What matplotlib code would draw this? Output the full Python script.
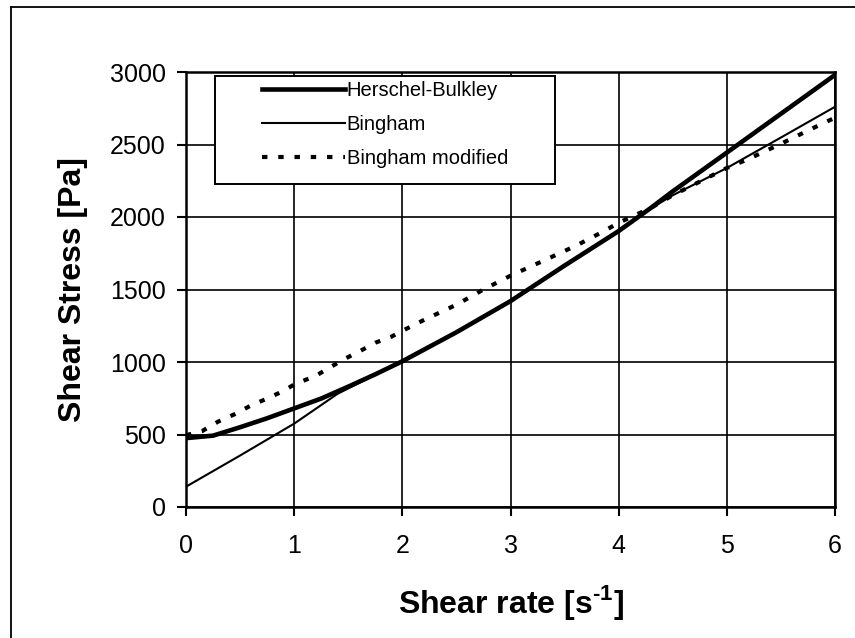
import matplotlib
matplotlib.use("Agg")
import matplotlib.pyplot as plt
from matplotlib.patches import Rectangle
from matplotlib.lines import Line2D

plt.rcParams['font.family'] = ['Liberation Sans', 'DejaVu Sans']
plt.rcParams['mathtext.fontset'] = 'custom'
plt.rcParams['mathtext.rm'] = 'Liberation Sans:bold'
plt.rcParams['mathtext.bf'] = 'Liberation Sans:bold'

# Flow curves: shear stress [Pa] against shear rate [1/s]
hb_rate = [0, 0.25, 0.5, 0.75, 1.0, 1.25, 1.5, 1.75, 2.0, 2.5, 3.0, 3.5, 4.0, 4.3, 4.5, 5.0, 5.5, 6.0]
hb_stress = [475, 492, 550, 612, 680, 748, 830, 915, 1005, 1205, 1420, 1665, 1903, 2064, 2177, 2444, 2712, 2980]

bingham_rate = [0, 0.5, 1.0, 1.4, 1.75, 2.0, 2.5, 3.0, 3.5, 4.0, 4.3, 4.5, 5.0, 5.5, 6.0]
bingham_stress = [140, 355, 575, 780, 912, 1005, 1205, 1420, 1665, 1903, 2060, 2150, 2338, 2548, 2760]

mod_rate = [0, 0.15, 0.3, 0.45, 0.6, 0.75, 0.9, 1.0, 1.2, 1.45, 1.6, 1.75, 1.9, 2.0, 2.2, 2.5, 2.75, 3.0, 3.3, 3.6, 3.85, 4.0, 4.3, 4.5, 5.0, 5.2, 5.5, 5.8, 6.0]
mod_stress = [495, 524, 590, 640, 700, 748, 800, 845, 905, 1015, 1072, 1133, 1175, 1215, 1290, 1395, 1500, 1595, 1697, 1800, 1897, 1960, 2064, 2150, 2338, 2400, 2505, 2614, 2685]

labels = ["Herschel-Bulkley", "Bingham", "Bingham modified"]
x_ticks = [0, 1, 2, 3, 4, 5, 6]
y_ticks = [0, 500, 1000, 1500, 2000, 2500, 3000]

dotted = (0, (1.3, 2.6))

W, H = 855, 638
fig = plt.figure(figsize=(W / 100, H / 100), dpi=100)
ax = fig.add_axes([186 / W, 1 - 507 / H, 649 / W, 435 / H])

ax.plot(hb_rate, hb_stress, color='black', lw=3.3, solid_capstyle='round', zorder=3)
ax.plot(bingham_rate, bingham_stress, color='black', lw=1.5, zorder=3)
ax.plot(mod_rate, mod_stress, color='black', lw=3.0, linestyle=dotted, zorder=3)

ax.set_xlim(0, 6)
ax.set_ylim(0, 3000)
ax.set_xticks(x_ticks)
ax.set_yticks(y_ticks)
ax.grid(True, color='black', lw=1.2)
ax.set_axisbelow(True)
for s in ax.spines.values():
    s.set_linewidth(1.8)
ax.tick_params(direction='out', length=6.5, width=1.5, labelsize=18)
ax.tick_params(axis='x', pad=13)
ax.tick_params(axis='y', pad=8)

ax.set_xlabel(r"Shear rate [s$^{\text{-1}}$]", fontsize=23, fontweight='bold', labelpad=18)
ax.set_ylabel("Shear Stress [Pa]", fontsize=23, fontweight='bold', labelpad=16)

# legend box drawn separately so the padding can be wider than tall
box = Rectangle((215 / W, 1 - 184 / H), 340 / W, 108 / H, transform=fig.transFigure,
                facecolor='white', edgecolor='black', lw=1.4, zorder=4)
ax.add_patch(box)
box.set_clip_on(False)

handles = [Line2D([], [], color='black', lw=3.3),
           Line2D([], [], color='black', lw=1.5),
           Line2D([], [], color='black', lw=3.0, linestyle=dotted)]
leg = ax.legend(handles, labels, loc='upper left', bbox_to_anchor=(258 / W, 1 - 77 / H),
                bbox_transform=fig.transFigure, frameon=False, fontsize=14.5,
                handlelength=4.1, handletextpad=0.1, labelspacing=0.75,
                borderpad=0.2, borderaxespad=0)
leg.set_zorder(5)

# page frame
fig.add_artist(Line2D([11 / W, 11 / W], [0, 1 - 7 / H], color='black', lw=1.3, transform=fig.transFigure))
fig.add_artist(Line2D([11 / W, 1], [1 - 7 / H, 1 - 7 / H], color='black', lw=1.3, transform=fig.transFigure))

fig.savefig("out.png", dpi=100)
